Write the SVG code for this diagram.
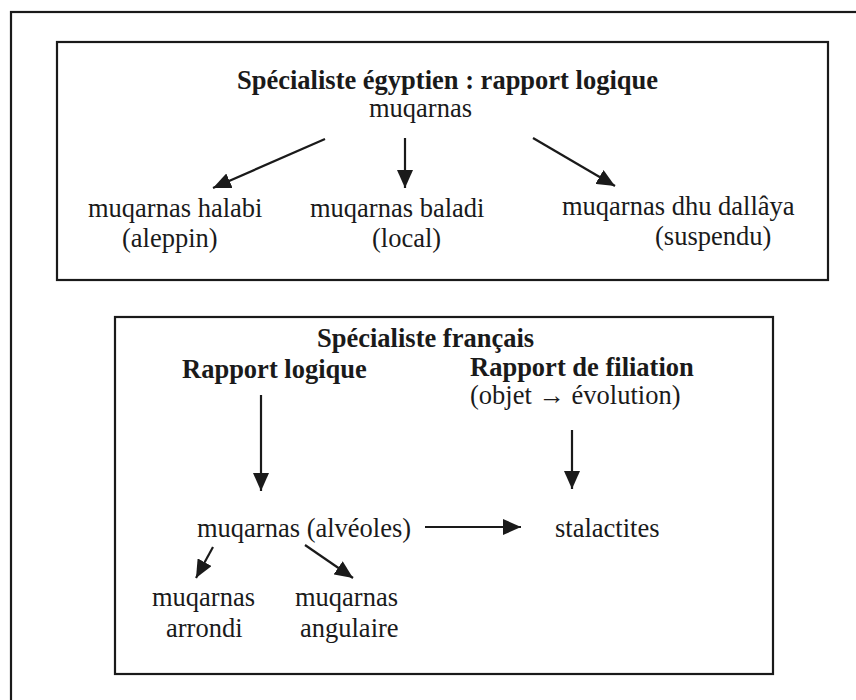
<svg xmlns="http://www.w3.org/2000/svg" width="856" height="700" viewBox="0 0 856 700">
<style>
text{font-family:"Liberation Serif","Times New Roman",serif;font-size:26.5px;fill:#1a1a1a}
.b{font-weight:bold}
.frame{fill:none;stroke:#1a1a1a;stroke-width:2.2}
.arr{stroke:#1a1a1a;stroke-width:2.2;fill:none;marker-end:url(#ah)}
</style>
<defs>
<marker id="ah" markerUnits="userSpaceOnUse" markerWidth="18" markerHeight="16" refX="18" refY="8" orient="auto">
<path d="M0,0 L18,8 L0,16 z" fill="#1a1a1a"/>
</marker>
</defs>
<rect width="856" height="700" fill="#ffffff"/>
<rect id="outer-frame" class="frame" x="11" y="12" width="900" height="760"/>
<g id="box-egyptian">
<rect class="frame" x="57" y="42" width="771" height="238"/>
<g id="title-egyptian"><text class="b" x="237" y="89">Spécialiste égyptien : rapport logique</text></g>
<g id="n-muqarnas-top"><text x="369" y="117">muqarnas</text></g>
<g id="n-halabi"><text x="88" y="217">muqarnas halabi</text><text x="122" y="247">(aleppin)</text></g>
<g id="n-baladi"><text x="310" y="217">muqarnas baladi</text><text x="372" y="247">(local)</text></g>
<g id="n-dallaya"><text x="562" y="215">muqarnas dhu dallâya</text><text x="655" y="245">(suspendu)</text></g>
</g>
<g id="box-french">
<rect class="frame" x="115" y="317" width="658" height="357"/>
<g id="title-french"><text class="b" x="317" y="347">Spécialiste français</text></g>
<g id="n-logique"><text class="b" x="182" y="378">Rapport logique</text></g>
<g id="n-filiation"><text class="b" x="470" y="376">Rapport de filiation</text><text x="470" y="404">(objet → évolution)</text></g>
<g id="n-alveoles"><text x="197" y="537">muqarnas (alvéoles)</text></g>
<g id="n-stalactites"><text x="555" y="537">stalactites</text></g>
<g id="n-arrondi"><text x="152" y="606">muqarnas</text><text x="166" y="637">arrondi</text></g>
<g id="n-angulaire"><text x="295" y="606">muqarnas</text><text x="300" y="637">angulaire</text></g>
</g>
<g id="connectors">
<line class="arr" x1="325" y1="139" x2="213" y2="188"/>
<line class="arr" x1="405" y1="138" x2="405" y2="188"/>
<line class="arr" x1="533" y1="138" x2="615" y2="186"/>
<line class="arr" x1="261" y1="395" x2="261" y2="491"/>
<line class="arr" x1="572" y1="430" x2="572" y2="489"/>
<line class="arr" x1="425" y1="527" x2="521" y2="527"/>
<line class="arr" x1="213" y1="547" x2="196" y2="578"/>
<line class="arr" x1="305" y1="545" x2="353" y2="578"/>
</g>
</svg>
